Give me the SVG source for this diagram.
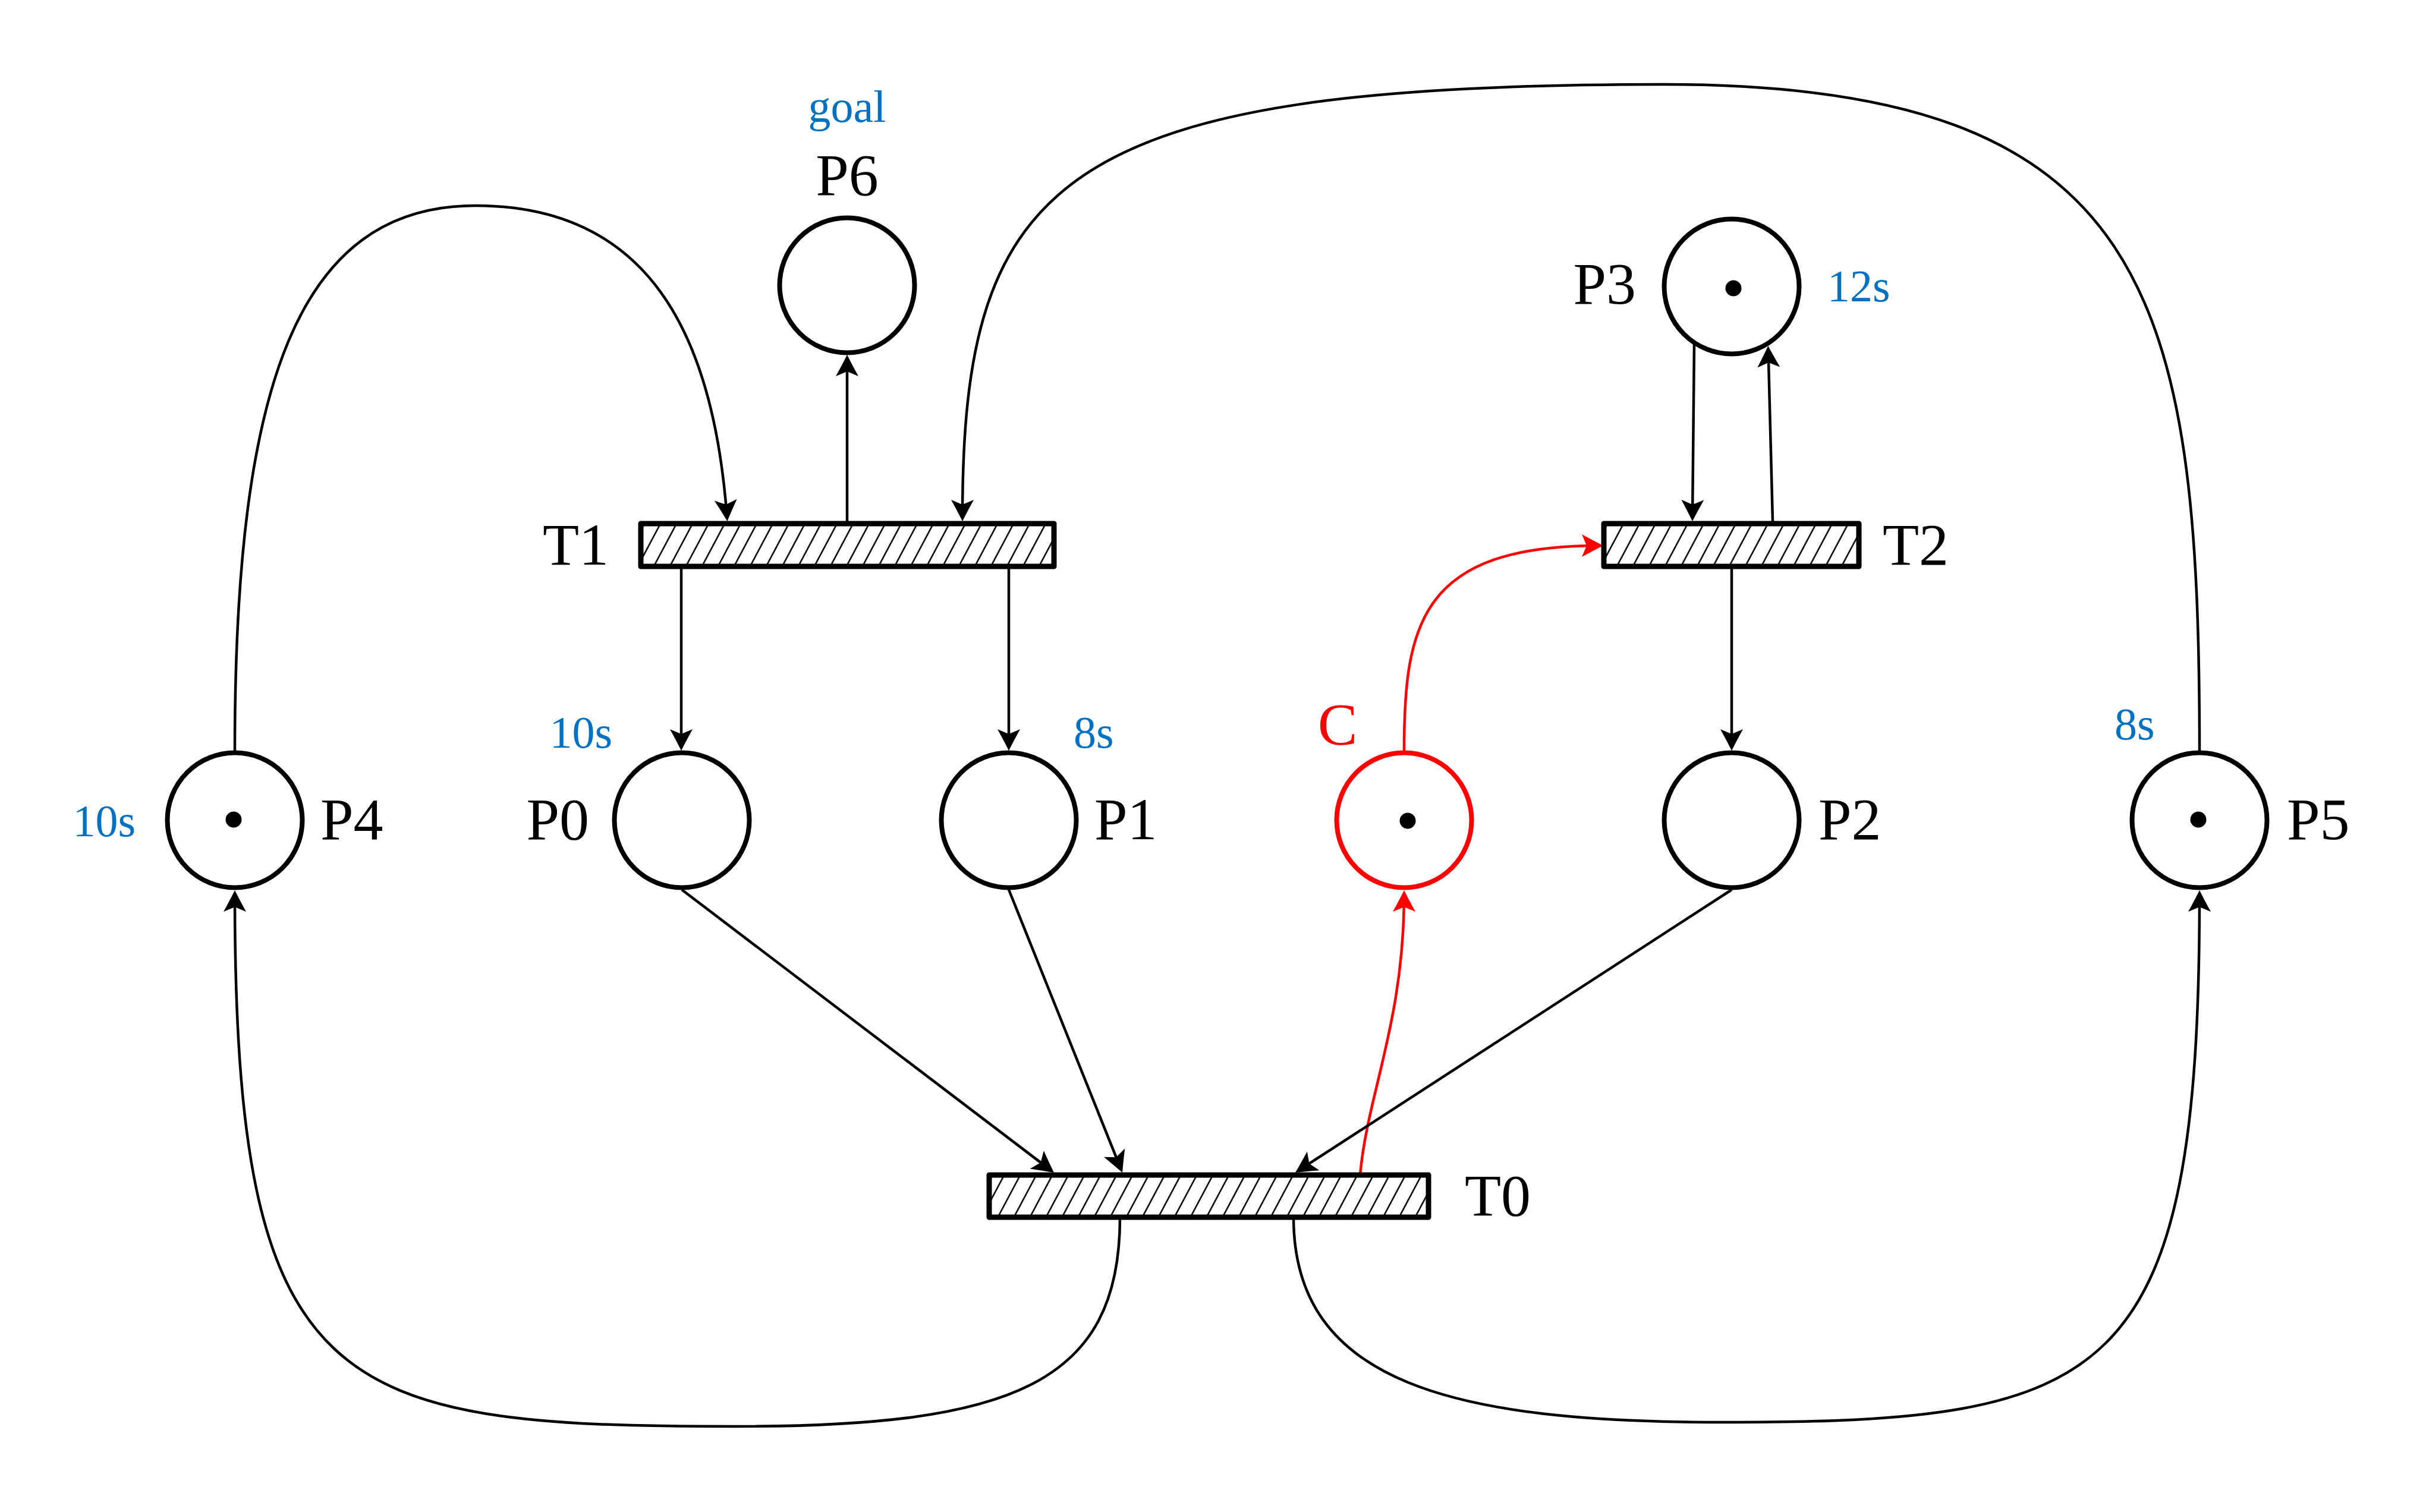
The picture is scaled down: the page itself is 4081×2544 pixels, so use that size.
<svg xmlns="http://www.w3.org/2000/svg" width="4081" height="2544" viewBox="0 0 4081 2544">
  <style>
    .place { fill: #ffffff; stroke: #000000; stroke-width: 8; }
    .place-red { fill: #ffffff; stroke: #ff0000; stroke-width: 8; }
    .token { fill: #000000; }
    .trans { fill: url(#hatch); stroke: #000000; stroke-width: 9; stroke-linejoin: round; }
    .lbl { font-family: "Liberation Serif", "Times New Roman", serif; font-size: 100px; fill: #000000; }
    .lbl-red { font-family: "Liberation Serif", "Times New Roman", serif; font-size: 100px; fill: #ff0000; }
    .time { font-family: "Liberation Serif", "Times New Roman", serif; font-size: 76px; fill: #0070c0; }
    .arc { fill: none; stroke: #000000; stroke-width: 4.5; marker-end: url(#arrow); }
    .arc-red { fill: none; stroke: #ff0000; stroke-width: 4.5; marker-end: url(#arrow-red); }
  </style>
  <defs>
    <pattern id="hatch" patternUnits="userSpaceOnUse" width="27" height="27" patternTransform="skewX(-28)">
      <rect width="27" height="27" fill="#ffffff"/>
      <line x1="13.5" y1="-1" x2="13.5" y2="28" stroke="#111111" stroke-width="3"/>
    </pattern>
    <marker id="arrow" markerUnits="userSpaceOnUse" viewBox="0 0 40 40" markerWidth="40" markerHeight="40" refX="30" refY="20" orient="auto">
      <path d="M0,1 Q20,12 36,20 Q20,28 0,39 L8,20 Z" fill="#000000"/>
    </marker>
    <marker id="arrow-red" markerUnits="userSpaceOnUse" viewBox="0 0 40 40" markerWidth="40" markerHeight="40" refX="30" refY="20" orient="auto">
      <path d="M0,1 Q20,12 36,20 Q20,28 0,39 L8,20 Z" fill="#ff0000"/>
    </marker>
  </defs>

  <rect x="0" y="0" width="4081" height="2544" fill="#ffffff"/>

  <g id="connectors">
    <path id="a-T1-P6" class="arc" d="M 1425 877 L 1425 603"/>
    <path id="a-T1-P0" class="arc" d="M 1146 953 L 1146 1257"/>
    <path id="a-T1-P1" class="arc" d="M 1697 953 L 1697 1257"/>
    <path id="a-T2-P2" class="arc" d="M 2913 953 L 2913 1257"/>
    <path id="a-P3-T2" class="arc" d="M 2850 578 L 2847 871"/>
    <path id="a-T2-P3" class="arc" d="M 2982 877 L 2974.5 588"/>
    <path id="a-P4-T1" class="arc" d="M 395 1263 C 395 650, 500 346, 800 346 C 1090 346, 1200 560, 1223 871"/>
    <path id="a-P5-T1" class="arc" d="M 3700 1263 C 3700 500, 3620 142, 2800 142 C 1780 142, 1619 300, 1619 871"/>
    <path id="a-C-T2" class="arc-red" d="M 2362 1263 C 2362 1050, 2390 918, 2691 918"/>
    <path id="a-T0-C" class="arc-red" d="M 2288 1977 C 2300 1840, 2362 1720, 2362 1504"/>
    <path id="a-P0-T0" class="arc" d="M 1147 1497 L 1768.2 1969.4"/>
    <path id="a-P1-T0" class="arc" d="M 1697 1497 L 1885.8 1967.4"/>
    <path id="a-P2-T0" class="arc" d="M 2913 1497 L 2184 1969.7"/>
    <path id="a-T0-P4" class="arc" d="M 1884 2048 C 1884 2330, 1700 2400, 1237 2400 C 560 2400, 395 2350, 395 1504"/>
    <path id="a-T0-P5" class="arc" d="M 2176 2048 C 2176 2330, 2450 2393, 2900 2393 C 3550 2393, 3700 2330, 3700 1504"/>
  </g>

  <g id="T1">
    <rect class="trans" x="1078" y="881" width="695" height="72"/>
    <text class="lbl" x="1024" y="950" text-anchor="end">T1</text>
  </g>
  <g id="T2">
    <rect class="trans" x="2698" y="881" width="429" height="72"/>
    <text class="lbl" x="3167" y="950">T2</text>
  </g>
  <g id="T0">
    <rect class="trans" x="1664" y="1977" width="739" height="71"/>
    <text class="lbl" x="2464" y="2045">T0</text>
  </g>

  <g id="P6">
    <circle class="place" cx="1425" cy="480" r="113.5"/>
    <text class="lbl" x="1425" y="328" text-anchor="middle">P6</text>
    <text class="time" x="1425" y="205" text-anchor="middle">goal</text>
  </g>
  <g id="P3">
    <circle class="place" cx="2913" cy="482" r="113.5"/>
    <circle class="token" cx="2916" cy="485" r="13.5"/>
    <text class="lbl" x="2752" y="511" text-anchor="end">P3</text>
    <text class="time" x="3074" y="507">12s</text>
  </g>
  <g id="P4">
    <circle class="place" cx="395" cy="1380" r="113.5"/>
    <circle class="token" cx="393" cy="1379" r="13.5"/>
    <text class="lbl" x="539" y="1412">P4</text>
    <text class="time" x="228" y="1407" text-anchor="end">10s</text>
  </g>
  <g id="P0">
    <circle class="place" cx="1147" cy="1380" r="113.5"/>
    <text class="lbl" x="991" y="1412" text-anchor="end">P0</text>
    <text class="time" x="1030" y="1258" text-anchor="end">10s</text>
  </g>
  <g id="P1">
    <circle class="place" cx="1697" cy="1380" r="113.5"/>
    <text class="lbl" x="1841" y="1412">P1</text>
    <text class="time" x="1806" y="1258">8s</text>
  </g>
  <g id="C">
    <circle class="place-red" cx="2362" cy="1380" r="113.5"/>
    <circle class="token" cx="2368" cy="1381" r="13.5"/>
    <text class="lbl-red" x="2250" y="1252" text-anchor="middle">C</text>
  </g>
  <g id="P2">
    <circle class="place" cx="2913" cy="1380" r="113.5"/>
    <text class="lbl" x="3059" y="1412">P2</text>
  </g>
  <g id="P5">
    <circle class="place" cx="3700" cy="1380" r="113.5"/>
    <circle class="token" cx="3698" cy="1379" r="13.5"/>
    <text class="lbl" x="3847" y="1412">P5</text>
    <text class="time" x="3557" y="1244">8s</text>
  </g>
</svg>
